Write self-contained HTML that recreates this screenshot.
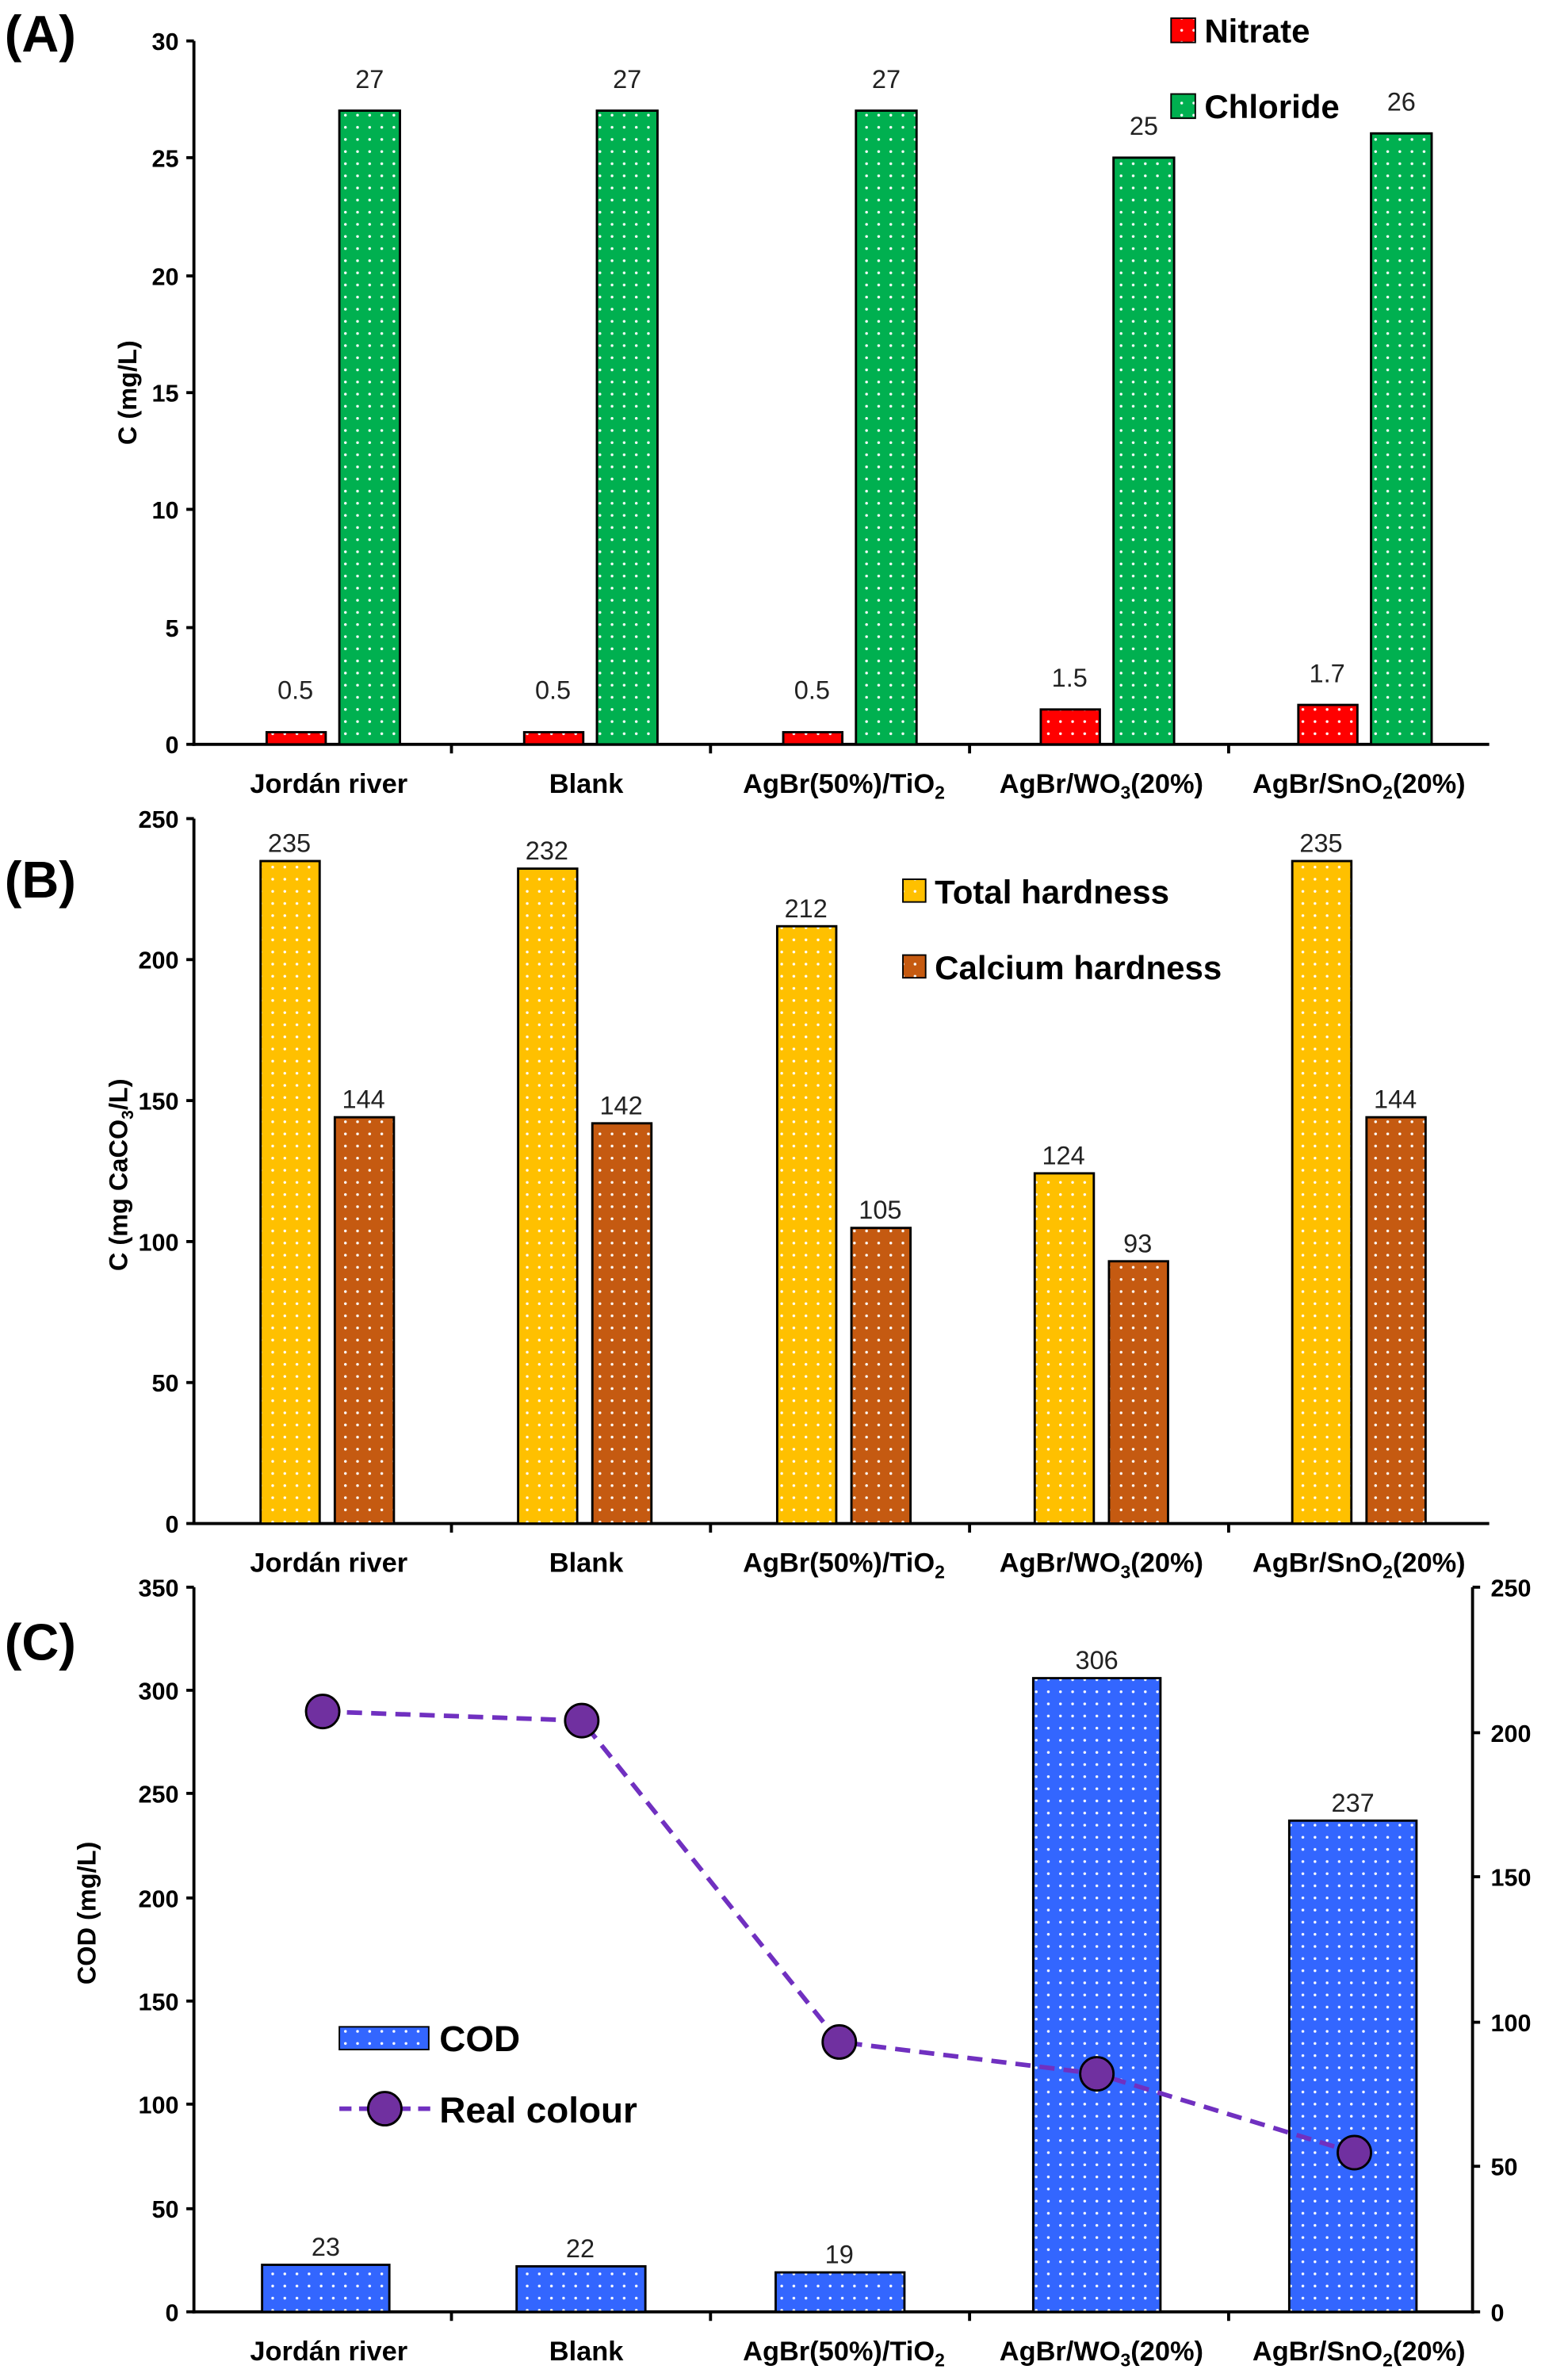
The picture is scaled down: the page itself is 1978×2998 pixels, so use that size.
<!DOCTYPE html>
<html><head><meta charset="utf-8"><style>
html,body{margin:0;padding:0;background:#fff;}
svg{display:block;}
text{font-family:"Liberation Sans",Arial,sans-serif;}
.t{font-size:16px;font-weight:bold;text-anchor:end;}
.c{font-size:18px;font-weight:bold;text-anchor:middle;}
.v{font-size:17px;text-anchor:middle;fill:#222;}
.p{font-size:34px;font-weight:bold;}
.l{font-size:22px;font-weight:bold;}
</style></head><body>
<svg width="1978" height="2998" viewBox="0 0 1035 1568" preserveAspectRatio="none" xmlns="http://www.w3.org/2000/svg">
<defs>
<pattern id="dr" width="8" height="8" patternUnits="userSpaceOnUse"><rect width="8" height="8" fill="#ff0000"/><circle cx="4" cy="4" r="0.9" fill="#fff"/></pattern>
<pattern id="dg" width="8" height="8" patternUnits="userSpaceOnUse"><rect width="8" height="8" fill="#00b050"/><circle cx="4" cy="4" r="0.9" fill="#fff"/></pattern>
<pattern id="dy" width="8" height="8" patternUnits="userSpaceOnUse"><rect width="8" height="8" fill="#ffc000"/><circle cx="4" cy="4" r="0.9" fill="#fff"/></pattern>
<pattern id="db" width="8" height="8" patternUnits="userSpaceOnUse"><rect width="8" height="8" fill="#c55a11"/><circle cx="4" cy="4" r="0.9" fill="#fff"/></pattern>
<pattern id="du" width="8" height="8" patternUnits="userSpaceOnUse"><rect width="8" height="8" fill="#3366ff"/><circle cx="4" cy="4" r="0.9" fill="#fff"/></pattern>
</defs>

<!-- Panel A -->
<text class="p" x="3" y="34">(A)</text>
<g stroke="#000" stroke-width="2">
<line x1="128" y1="27" x2="128" y2="492"/><line x1="127" y1="491" x2="983" y2="491"/>
<line x1="123" y1="27" x2="128" y2="27"/><line x1="123" y1="104" x2="128" y2="104"/><line x1="123" y1="182" x2="128" y2="182"/><line x1="123" y1="259" x2="128" y2="259"/><line x1="123" y1="336" x2="128" y2="336"/><line x1="123" y1="414" x2="128" y2="414"/><line x1="123" y1="491" x2="128" y2="491"/>
<line x1="298" y1="491" x2="298" y2="497"/><line x1="469" y1="491" x2="469" y2="497"/><line x1="640" y1="491" x2="640" y2="497"/><line x1="811" y1="491" x2="811" y2="497"/>
</g>
<text class="t" x="118" y="33">30</text><text class="t" x="118" y="110">25</text><text class="t" x="118" y="188">20</text><text class="t" x="118" y="265">15</text><text class="t" x="118" y="342">10</text><text class="t" x="118" y="420">5</text><text class="t" x="118" y="497">0</text>
<text transform="translate(90,259) rotate(-90)" style="font-size:17px;font-weight:bold;text-anchor:middle">C (mg/L)</text>
<g stroke="#000" stroke-width="1.5">
<rect x="176" y="483" width="39" height="8" fill="url(#dr)"/><rect x="224" y="73" width="40" height="418" fill="url(#dg)"/>
<rect x="346" y="483" width="39" height="8" fill="url(#dr)"/><rect x="394" y="73" width="40" height="418" fill="url(#dg)"/>
<rect x="517" y="483" width="39" height="8" fill="url(#dr)"/><rect x="565" y="73" width="40" height="418" fill="url(#dg)"/>
<rect x="687" y="468" width="39" height="23" fill="url(#dr)"/><rect x="735" y="104" width="40" height="387" fill="url(#dg)"/>
<rect x="857" y="465" width="39" height="26" fill="url(#dr)"/><rect x="905" y="88" width="40" height="403" fill="url(#dg)"/>
</g>
<text class="v" x="195" y="461">0.5</text><text class="v" x="244" y="58">27</text>
<text class="v" x="365" y="461">0.5</text><text class="v" x="414" y="58">27</text>
<text class="v" x="536" y="461">0.5</text><text class="v" x="585" y="58">27</text>
<text class="v" x="706" y="453">1.5</text><text class="v" x="755" y="89">25</text>
<text class="v" x="876" y="450">1.7</text><text class="v" x="925" y="73">26</text>
<text class="c" x="217" y="523">Jordán river</text><text class="c" x="387" y="523">Blank</text>
<text class="c" x="557" y="523">AgBr(50%)/TiO<tspan font-size="12" dy="4">2</tspan></text>
<text class="c" x="727" y="523">AgBr/WO<tspan font-size="12" dy="4">3</tspan><tspan dy="-4">(20%)</tspan></text>
<text class="c" x="897" y="523">AgBr/SnO<tspan font-size="12" dy="4">2</tspan><tspan dy="-4">(20%)</tspan></text>
<rect x="773" y="12" width="16" height="16" fill="url(#dr)" stroke="#000"/><text class="l" x="795" y="28">Nitrate</text>
<rect x="773" y="62" width="16" height="16" fill="url(#dg)" stroke="#000"/><text class="l" x="795" y="78">Chloride</text>

<!-- Panel B -->
<text class="p" x="3" y="592">(B)</text>
<g stroke="#000" stroke-width="2">
<line x1="128" y1="540" x2="128" y2="1006"/><line x1="127" y1="1005" x2="983" y2="1005"/>
<line x1="123" y1="540" x2="128" y2="540"/><line x1="123" y1="633" x2="128" y2="633"/><line x1="123" y1="726" x2="128" y2="726"/><line x1="123" y1="819" x2="128" y2="819"/><line x1="123" y1="912" x2="128" y2="912"/><line x1="123" y1="1005" x2="128" y2="1005"/>
<line x1="298" y1="1005" x2="298" y2="1011"/><line x1="469" y1="1005" x2="469" y2="1011"/><line x1="640" y1="1005" x2="640" y2="1011"/><line x1="811" y1="1005" x2="811" y2="1011"/>
</g>
<text class="t" x="118" y="546">250</text><text class="t" x="118" y="639">200</text><text class="t" x="118" y="732">150</text><text class="t" x="118" y="825">100</text><text class="t" x="118" y="918">50</text><text class="t" x="118" y="1011">0</text>
<text transform="translate(84,775) rotate(-90)" style="font-size:17px;font-weight:bold;text-anchor:middle">C (mg CaCO<tspan font-size="11" dy="4">3</tspan><tspan dy="-4">/L)</tspan></text>
<g stroke="#000" stroke-width="1.5">
<rect x="172" y="568" width="39" height="437" fill="url(#dy)"/><rect x="221" y="737" width="39" height="268" fill="url(#db)"/>
<rect x="342" y="573" width="39" height="432" fill="url(#dy)"/><rect x="391" y="741" width="39" height="264" fill="url(#db)"/>
<rect x="513" y="611" width="39" height="394" fill="url(#dy)"/><rect x="562" y="810" width="39" height="195" fill="url(#db)"/>
<rect x="683" y="774" width="39" height="231" fill="url(#dy)"/><rect x="732" y="832" width="39" height="173" fill="url(#db)"/>
<rect x="853" y="568" width="39" height="437" fill="url(#dy)"/><rect x="902" y="737" width="39" height="268" fill="url(#db)"/>
</g>
<text class="v" x="191" y="562">235</text><text class="v" x="240" y="731">144</text>
<text class="v" x="361" y="567">232</text><text class="v" x="410" y="735">142</text>
<text class="v" x="532" y="605">212</text><text class="v" x="581" y="804">105</text>
<text class="v" x="702" y="768">124</text><text class="v" x="751" y="826">93</text>
<text class="v" x="872" y="562">235</text><text class="v" x="921" y="731">144</text>
<text class="c" x="217" y="1037">Jordán river</text><text class="c" x="387" y="1037">Blank</text>
<text class="c" x="557" y="1037">AgBr(50%)/TiO<tspan font-size="12" dy="4">2</tspan></text>
<text class="c" x="727" y="1037">AgBr/WO<tspan font-size="12" dy="4">3</tspan><tspan dy="-4">(20%)</tspan></text>
<text class="c" x="897" y="1037">AgBr/SnO<tspan font-size="12" dy="4">2</tspan><tspan dy="-4">(20%)</tspan></text>
<rect x="596" y="580" width="15" height="15" fill="url(#dy)" stroke="#000"/><text class="l" x="617" y="596">Total hardness</text>
<rect x="596" y="630" width="15" height="15" fill="url(#db)" stroke="#000"/><text class="l" x="617" y="646">Calcium hardness</text>

<!-- Panel C -->
<text class="p" x="3" y="1095">(C)</text>
<g stroke="#000" stroke-width="2">
<line x1="128" y1="1047" x2="128" y2="1526"/><line x1="127" y1="1525" x2="973" y2="1525"/>
<line x1="972" y1="1047" x2="972" y2="1526"/>
<line x1="123" y1="1047" x2="128" y2="1047"/><line x1="123" y1="1115" x2="128" y2="1115"/><line x1="123" y1="1183" x2="128" y2="1183"/><line x1="123" y1="1252" x2="128" y2="1252"/><line x1="123" y1="1320" x2="128" y2="1320"/><line x1="123" y1="1388" x2="128" y2="1388"/><line x1="123" y1="1457" x2="128" y2="1457"/><line x1="123" y1="1525" x2="128" y2="1525"/>
<line x1="972" y1="1047" x2="977" y2="1047"/><line x1="972" y1="1143" x2="977" y2="1143"/><line x1="972" y1="1238" x2="977" y2="1238"/><line x1="972" y1="1334" x2="977" y2="1334"/><line x1="972" y1="1429" x2="977" y2="1429"/><line x1="972" y1="1525" x2="977" y2="1525"/>
<line x1="298" y1="1525" x2="298" y2="1531"/><line x1="469" y1="1525" x2="469" y2="1531"/><line x1="640" y1="1525" x2="640" y2="1531"/><line x1="811" y1="1525" x2="811" y2="1531"/>
</g>
<text class="t" x="118" y="1053">350</text><text class="t" x="118" y="1121">300</text><text class="t" x="118" y="1189">250</text><text class="t" x="118" y="1258">200</text><text class="t" x="118" y="1326">150</text><text class="t" x="118" y="1394">100</text><text class="t" x="118" y="1463">50</text><text class="t" x="118" y="1531">0</text>
<g style="font-size:16px;font-weight:bold"><text x="984" y="1053">250</text><text x="984" y="1149">200</text><text x="984" y="1244">150</text><text x="984" y="1340">100</text><text x="984" y="1435">50</text><text x="984" y="1531">0</text></g>
<text transform="translate(63,1262) rotate(-90)" style="font-size:17px;font-weight:bold;text-anchor:middle">COD (mg/L)</text>
<g stroke="#000" stroke-width="1.5">
<rect x="173" y="1494" width="84" height="31" fill="url(#du)"/>
<rect x="341" y="1495" width="85" height="30" fill="url(#du)"/>
<rect x="512" y="1499" width="85" height="26" fill="url(#du)"/>
<rect x="682" y="1107" width="84" height="418" fill="url(#du)"/>
<rect x="851" y="1201" width="84" height="324" fill="url(#du)"/>
</g>
<text class="v" x="215" y="1488">23</text><text class="v" x="383" y="1489">22</text><text class="v" x="554" y="1493">19</text><text class="v" x="724" y="1101">306</text><text class="v" x="893" y="1195">237</text>
<polyline points="213,1129 384,1135 554,1347 724,1368 894,1420" fill="none" stroke="#7030c0" stroke-width="3" stroke-dasharray="10,6"/>
<g fill="#7030a0" stroke="#000" stroke-width="1.5">
<circle cx="213" cy="1129" r="11"/><circle cx="384" cy="1135" r="11"/><circle cx="554" cy="1347" r="11"/><circle cx="724" cy="1368" r="11"/><circle cx="894" cy="1420" r="11"/>
</g>
<text class="c" x="217" y="1557">Jordán river</text><text class="c" x="387" y="1557">Blank</text>
<text class="c" x="557" y="1557">AgBr(50%)/TiO<tspan font-size="12" dy="4">2</tspan></text>
<text class="c" x="727" y="1557">AgBr/WO<tspan font-size="12" dy="4">3</tspan><tspan dy="-4">(20%)</tspan></text>
<text class="c" x="897" y="1557">AgBr/SnO<tspan font-size="12" dy="4">2</tspan><tspan dy="-4">(20%)</tspan></text>
<rect x="224" y="1337" width="59" height="15" fill="url(#du)" stroke="#000"/><text class="l" x="290" y="1353" style="font-size:24px">COD</text>
<line x1="224" y1="1391" x2="284" y2="1391" stroke="#7030c0" stroke-width="3" stroke-dasharray="8,5"/>
<circle cx="254" cy="1391" r="11" fill="#7030a0" stroke="#000" stroke-width="1.5"/>
<text class="l" x="290" y="1400" style="font-size:24px">Real colour</text>
</svg>
</body></html>
